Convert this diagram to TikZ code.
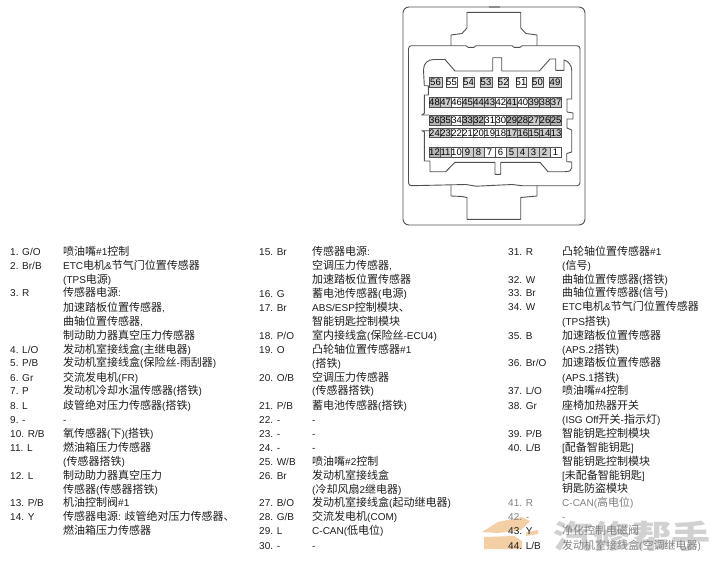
\documentclass[tikz,border=0pt]{standalone}
\usepackage{fontspec}
\setmainfont{Liberation Sans}
\newfontfamily\cjkf[Scale=1.1]{Noto Sans CJK SC}
\newfontfamily\cjkw{Noto Sans CJK SC}
\newcommand{\zh}[1]{{\cjkf #1}}
\definecolor{ink}{HTML}{1E1E1E}
\definecolor{linec}{HTML}{505050}
\definecolor{pingrey}{HTML}{CCCCCC}
\definecolor{pindark}{HTML}{B4B4B4}
\definecolor{wmorange}{HTML}{F3CFA6}
\definecolor{faded}{HTML}{808080}
\tikzset{
 x=1pt,y=-1pt,
 rowtext/.style={anchor=base west,inner sep=0pt,font=\fontsize{10}{12}\selectfont,text=ink},
 outline/.style={draw=linec,line width=0.9pt,line join=round},
}
\newcount\tcnt
\newcommand{\T}[4][ink]{\global\advance\tcnt by 1 \node[rowtext,text=#1] (t\the\tcnt) at (#2,#3+4.3) {#4};}
\newcommand{\pin}[6]{\filldraw[draw=linec,line width=0.5pt,fill=#6] (#2,#4) rectangle (#3,#5); \node[inner sep=0pt,text=black,font=\fontsize{9.5}{10}\selectfont] (p#1) at ({(#2+#3)/2},{(#4+#5)/2}) {#1};}
\begin{document}
\begin{tikzpicture}
\useasboundingbox (0,0) rectangle (716,562);
\fill[white] (0,0) rectangle (716,562);
% watermark
\fill[wmorange] (482,532) -- (498,522) -- (522,517) -- (530,521) -- (521,530) -- (498,533) -- cycle;
\fill[wmorange] (484,537) -- (514,536) -- (522,541) -- (522,549) -- (484,549) -- cycle;
\fill[wmorange] (526,532) -- (538,530) -- (538,534) -- (526,536) -- cycle;
\node[inner sep=0pt,text=black!18,font=\cjkw\bfseries\fontsize{32}{32}\selectfont,xscale=1.22] (wm) at (632,536) {汽修帮手};
% housing
\draw[outline] (403,13) arc[start angle=180,end angle=270,radius=6] -- (579,7) arc[start angle=-90,end angle=0,radius=6] -- (585,219) arc[start angle=0,end angle=90,radius=6] -- (409,225) arc[start angle=90,end angle=180,radius=6] -- cycle;
\draw[line width=1.2pt,draw=black!45] (489,7) -- (500,7);
% inner frame
\draw[outline] (408.5,48.7) arc[start angle=180,end angle=270,radius=3] -- (466,45.7) -- (468,47.3) -- (474,47.3) -- (476,45.7) -- (512,45.7) -- (514,47.3) -- (520,47.3) -- (522,45.7) -- (577,45.7) arc[start angle=-90,end angle=0,radius=3] -- (580,182.7) arc[start angle=0,end angle=90,radius=3] -- (522,185.7) -- (512,184.5) -- (476,186.2) -- (466,184.5) -- (411.5,185.7) arc[start angle=90,end angle=180,radius=3] -- cycle;
% tabs
\draw[outline] (451,45.7) -- (451,35) -- (462,33.5) -- (467,28) -- (467,12.3) -- (520.7,12.3) -- (520.7,28) -- (526,33.5) -- (537,35) -- (537,45.7);
\draw[outline] (451,185.7) -- (451,196) -- (462,196.5) -- (467,197.5) -- (467,219.3) -- (520.7,219.3) -- (520.7,197.5) -- (537,196) -- (537,185.7);
% socket outline
\draw[outline] (429,115) -- (421.7,115) -- (424.3,113.3) -- (424.3,95) -- (428.3,95) -- (428.3,85.7) -- (424.3,85.7) -- (423.5,70) .. controls (423.5,63) and (428,59.5) .. (434,59.5) -- (445,59.5) -- (455,71) -- (492.7,71) -- (492.7,57.7) -- (501.7,57.7) -- (501.7,71) -- (539.3,71) -- (550,59) -- (555.7,59) -- (555.7,70.3) -- (564,70.3) -- (564,60) .. controls (568,61) and (571.7,65) .. (571.7,70) -- (571.7,99) -- (567,99) -- (567,112) -- (573,113) -- (573,119) -- (567,119) -- (567,128) -- (571.7,130) -- (571.7,152) -- (566.7,153.5) -- (566.7,161.7) -- (571.7,162) -- (571.7,168) .. controls (571.7,170.5) and (569,171.7) .. (565,171.7) -- (548,171.7) -- (540,162.3) -- (500.7,162.3) -- (500.7,174.3) -- (495,174.3) -- (495,162.3) -- (455,162.3) -- (445.7,171.7) -- (430,171.7) -- (430,161) -- (424.3,161) -- (424.3,131.7) -- (421.7,130.7) -- (429,130.7);
% row 56-49
\pin{56}{429}{442}{77}{87.3}{pingrey}
\pin{55}{446}{457}{77}{87.3}{white}
\pin{54}{463}{474}{77}{87.3}{pingrey!60}
\pin{53}{480}{492}{77}{87.3}{pingrey}
\pin{52}{498}{508.5}{77}{87.3}{pingrey!60}
\pin{51}{516}{526}{77}{87.3}{white}
\pin{50}{532}{543}{77}{87.3}{pingrey!60}
\pin{49}{549}{561}{77}{87.3}{pingrey}
% row 48-37
\foreach \n/\c [count=\i from 0] in {48/pindark,47/pingrey,46/white,45/pingrey,44/pingrey,43/pingrey,42/white,41/pingrey,40/white,39/pingrey,38/pingrey,37/pingrey}{
 \pgfmathsetmacro\xa{429+11.05*\i}\pgfmathsetmacro\xb{\xa+11.05}
 \pin{\n}{\xa}{\xb}{97}{107}{\c}}
% row 36-25
\foreach \n/\c [count=\i from 0] in {36/pindark,35/pindark,34/white,33/pindark,32/pindark,31/white,30/white,29/pindark,28/pindark,27/pingrey,26/pindark,25/pindark}{
 \pgfmathsetmacro\xa{429+11.05*\i}\pgfmathsetmacro\xb{\xa+11.05}
 \pin{\n}{\xa}{\xb}{115}{125}{\c}}
% row 24-13
\foreach \n/\c [count=\i from 0] in {24/pingrey,23/pingrey,22/white,21/white,20/white,19/white,18/white,17/pingrey,16/pingrey,15/pingrey,14/pingrey,13/pingrey}{
 \pgfmathsetmacro\xa{429+11.05*\i}\pgfmathsetmacro\xb{\xa+11.05}
 \pin{\n}{\xa}{\xb}{128.5}{137.7}{\c}}
% row 12-1
\foreach \n/\c [count=\i from 0] in {12/pindark,11/pingrey,10/white,9/pingrey,8/pingrey,7/white,6/white,5/pingrey,4/pingrey,3/pingrey,2/pingrey,1/white}{
 \pgfmathsetmacro\xa{429+11*\i}\pgfmathsetmacro\xb{\xa+11}
 \pin{\n}{\xa}{\xb}{147.7}{157.5}{\c}}
% column 1
\def\N{10}\def\D{63}
\T{\N}{251}{1. G/O}\T{\D}{251}{\zh{喷油嘴}\#1\zh{控制}}
\T{\N}{265}{2. Br/B}\T{\D}{265}{ETC\zh{电机}\&\zh{节气门位置传感器}}
\T{\D}{279}{(TPS\zh{电源})}
\T{\N}{292}{3. R}\T{\D}{292}{\zh{传感器电源}:}
\T{\D}{307}{\zh{加速踏板位置传感器},}
\T{\D}{321}{\zh{曲轴位置传感器},}
\T{\D}{335}{\zh{制动助力器真空压力传感器}}
\T{\N}{349}{4. L/O}\T{\D}{349}{\zh{发动机室接线盒}(\zh{主继电器})}
\T{\N}{362}{5. P/B}\T{\D}{362}{\zh{发动机室接线盒}(\zh{保险丝}-\zh{雨刮器})}
\T{\N}{377}{6. Gr}\T{\D}{377}{\zh{交流发电机}(FR)}
\T{\N}{390}{7. P}\T{\D}{390}{\zh{发动机冷却水温传感器}(\zh{搭铁})}
\T{\N}{405}{8. L}\T{\D}{405}{\zh{歧管绝对压力传感器}(\zh{搭铁})}
\T{\N}{419}{9. -}\T{\D}{419}{-}
\T{\N}{433}{10. R/B}\T{\D}{433}{\zh{氧传感器}(\zh{下})(\zh{搭铁})}
\T{\N}{447}{11. L}\T{\D}{447}{\zh{燃油箱压力传感器}}
\T{\D}{461}{(\zh{传感器搭铁})}
\T{\N}{475}{12. L}\T{\D}{475}{\zh{制动助力器真空压力}}
\T{\D}{489}{\zh{传感器}(\zh{传感器搭铁})}
\T{\N}{502}{13. P/B}\T{\D}{502}{\zh{机油控制阀}\#1}
\T{\N}{516}{14. Y}\T{\D}{516}{\zh{传感器电源}: \zh{歧管绝对压力传感器、}}
\T{\D}{530}{\zh{燃油箱压力传感器}}
% column 2
\def\N{259}\def\D{312}
\T{\N}{251}{15. Br}\T{\D}{251}{\zh{传感器电源}:}
\T{\D}{265}{\zh{空调压力传感器},}
\T{\D}{279}{\zh{加速踏板位置传感器}}
\T{\N}{293}{16. G}\T{\D}{293}{\zh{蓄电池传感器}(\zh{电源})}
\T{\N}{307}{17. Br}\T{\D}{307}{ABS/ESP\zh{控制模块、}}
\T{\D}{321}{\zh{智能钥匙控制模块}}
\T{\N}{335}{18. P/O}\T{\D}{335}{\zh{室内接线盒}(\zh{保险丝}-ECU4)}
\T{\N}{349}{19. O}\T{\D}{349}{\zh{凸轮轴位置传感器}\#1}
\T{\D}{363}{(\zh{搭铁})}
\T{\N}{377}{20. O/B}\T{\D}{377}{\zh{空调压力传感器}}
\T{\D}{390}{(\zh{传感器搭铁})}
\T{\N}{405}{21. P/B}\T{\D}{405}{\zh{蓄电池传感器}(\zh{搭铁})}
\T{\N}{419}{22. -}\T{\D}{419}{-}
\T{\N}{433}{23. -}\T{\D}{433}{-}
\T{\N}{447}{24. -}\T{\D}{447}{-}
\T{\N}{461}{25. W/B}\T{\D}{461}{\zh{喷油嘴}\#2\zh{控制}}
\T{\N}{475}{26. Br}\T{\D}{475}{\zh{发动机室接线盒}}
\T{\D}{489}{(\zh{冷却风扇}2\zh{继电器})}
\T{\N}{502}{27. B/O}\T{\D}{502}{\zh{发动机室接线盒}(\zh{起动继电器})}
\T{\N}{516}{28. G/B}\T{\D}{516}{\zh{交流发电机}(COM)}
\T{\N}{530}{29. L}\T{\D}{530}{C-CAN(\zh{低电位})}
\T{\N}{545}{30. -}\T{\D}{545}{-}
% column 3
\def\N{508}\def\D{562}
\T{\N}{251}{31. R}\T{\D}{251}{\zh{凸轮轴位置传感器}\#1}
\T{\D}{265}{(\zh{信号})}
\T{\N}{279}{32. W}\T{\D}{279}{\zh{曲轴位置传感器}(\zh{搭铁})}
\T{\N}{292}{33. Br}\T{\D}{292}{\zh{曲轴位置传感器}(\zh{信号})}
\T{\N}{306}{34. W}\T{\D}{306}{ETC\zh{电机}\&\zh{节气门位置传感器}}
\T{\D}{321}{(TPS\zh{搭铁})}
\T{\N}{335}{35. B}\T{\D}{335}{\zh{加速踏板位置传感器}}
\T{\D}{349}{(APS.2\zh{搭铁})}
\T{\N}{362}{36. Br/O}\T{\D}{362}{\zh{加速踏板位置传感器}}
\T{\D}{377}{(APS.1\zh{搭铁})}
\T{\N}{390}{37. L/O}\T{\D}{390}{\zh{喷油嘴}\#4\zh{控制}}
\T{\N}{405}{38. Gr}\T{\D}{405}{\zh{座椅加热器开关}}
\T{\D}{419}{(ISG Off\zh{开关}-\zh{指示灯})}
\T{\N}{433}{39. P/B}\T{\D}{433}{\zh{智能钥匙控制模块}}
\T{\N}{447}{40. L/B}\T{\D}{447}{[\zh{配备智能钥匙}]}
\T{\D}{461}{\zh{智能钥匙控制模块}}
\T{\D}{475}{[\zh{未配备智能钥匙}]}
\T{\D}{488}{\zh{钥匙防盗模块}}
\T[faded]{\N}{502}{41. R}\T[faded]{\D}{502}{C-CAN(\zh{高电位})}
\T[faded]{\N}{516}{42. -}\T[faded]{\D}{516}{-}
\T{\N}{530}{43. Y}\T[faded]{\D}{530}{\zh{净化控制电磁阀}}
\T{\N}{545}{44. L/B}\T[faded]{\D}{545}{\zh{发动机室接线盒}(\zh{空调继电器})}
\end{tikzpicture}
\end{document}
